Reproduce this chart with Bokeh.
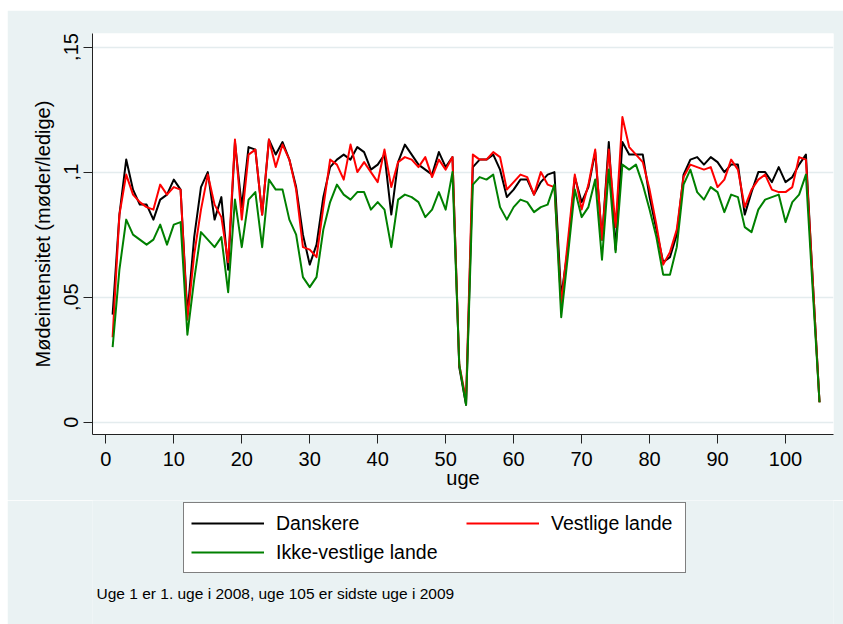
from bokeh.plotting import figure
from bokeh.layouts import column
from bokeh.models import Range1d, FixedTicker, Legend, LegendItem, Label
from bokeh.embed import file_html
from bokeh.resources import INLINE

weeks = list(range(1, 106))

danskere = [
    .043, .083, .105, .093, .087, .087, .081, .089, .091, .097,
    .093, .043, .074, .094, .100, .081, .090, .061, .112, .086,
    .110, .109, .083, .113, .107, .112, .105, .094, .075, .063,
    .071, .090, .102, .105, .107, .105, .110, .108, .101, .103,
    .107, .083, .104, .111, .107, .103, .101, .099, .108, .102,
    .106, .022, .007, .102, .105, .105, .107, .101, .090, .093,
    .097, .097, .091, .096, .099, .100, .050, .070, .098, .088,
    .094, .108, .073, .112, .069, .112, .107, .107, .107, .090,
    .077, .064, .066, .075, .099, .105, .106, .103, .106, .104,
    .100, .103, .103, .083, .092, .100, .100, .096, .102, .096,
    .098, .103, .107, .057, .008,
]

vestlige = [
    .034, .083, .099, .091, .088, .086, .085, .095, .091, .094,
    .093, .041, .067, .085, .099, .087, .082, .064, .113, .081,
    .107, .109, .083, .113, .102, .111, .105, .093, .070, .069,
    .066, .086, .105, .103, .097, .111, .100, .104, .100, .096,
    .109, .094, .104, .106, .105, .102, .106, .098, .105, .101,
    .106, .023, .009, .107, .105, .105, .108, .106, .093, .096,
    .099, .098, .091, .100, .095, .094, .047, .073, .099, .085,
    .095, .109, .073, .109, .078, .122, .110, .107, .104, .093,
    .079, .063, .068, .077, .098, .103, .102, .101, .102, .094,
    .097, .105, .101, .086, .093, .097, .099, .093, .092, .092,
    .094, .106, .105, .057, .008,
]

ikke_vestlige = [
    .030, .061, .081, .075, .073, .071, .073, .079, .071, .079,
    .080, .035, .057, .076, .073, .070, .074, .052, .089, .070,
    .089, .092, .070, .097, .093, .093, .081, .075, .058, .054,
    .058, .077, .088, .095, .091, .089, .092, .092, .085, .088,
    .085, .070, .089, .091, .090, .088, .082, .085, .092, .085,
    .100, .023, .007, .095, .098, .097, .099, .086, .081, .086,
    .089, .088, .084, .086, .087, .095, .042, .067, .093, .082,
    .086, .097, .065, .101, .068, .103, .101, .103, .095, .085,
    .074, .059, .059, .070, .095, .101, .092, .089, .094, .092,
    .084, .091, .090, .078, .076, .085, .089, .090, .091, .080,
    .088, .091, .099, .053, .008,
]

series_names = ["Danskere", "Vestlige lande", "Ikke-vestlige lande"]
series_colors = ["black", "#FF0000", "#008000"]
x_ticks = [0, 10, 20, 30, 40, 50, 60, 70, 80, 90, 100]
y_ticks = [0, 0.05, 0.1, 0.15]
y_tick_labels = ["0", ",05", ",1", ",15"]
x_title = "uge"
y_title = "Mødeintensitet (møder/ledige)"
note = "Uge 1 er 1. uge i 2008, uge 105 er sidste uge i 2009"

FONT = "Liberation Sans"
BG = "#EAF2F3"

# ---------------- main plot ----------------
p = figure(width=836, height=490,
           x_range=Range1d(-1.96, 107.06), y_range=Range1d(-0.0049, 0.1554),
           output_backend="svg", toolbar_location=None,
           min_border_left=85, min_border_right=10, min_border_top=23, min_border_bottom=66,
           background_fill_color="white", border_fill_color=BG,
           outline_line_color=None)

p.xgrid.visible = False
p.ygrid.grid_line_color = "#E4ECEE"
p.ygrid.grid_line_width = 1.3

for ax in (p.xaxis[0], p.yaxis[0]):
    ax.axis_line_color = "#222222"
    ax.axis_line_width = 1
    ax.major_tick_line_color = "#222222"
    ax.major_tick_line_width = 1
    ax.major_tick_out = 9
    ax.major_tick_in = 0
    ax.minor_tick_line_color = None
    ax.major_label_text_font = FONT
    ax.major_label_text_font_size = "20px"
    ax.major_label_text_color = "black"
    ax.axis_label_text_font = FONT
    ax.axis_label_text_font_size = "20px"
    ax.axis_label_text_font_style = "normal"
    ax.axis_label_text_color = "black"

p.xaxis.ticker = FixedTicker(ticks=x_ticks)
p.xaxis.axis_label = x_title
p.xaxis.major_label_standoff = 8
p.xaxis.axis_label_standoff = -2

p.yaxis.ticker = FixedTicker(ticks=y_ticks)
p.yaxis.major_label_overrides = {t: s for t, s in zip(y_ticks, y_tick_labels)}
p.yaxis.major_label_orientation = "vertical"
p.yaxis.axis_label = y_title
p.yaxis.major_label_standoff = 5
p.yaxis.axis_label_standoff = 8

for ys, col in zip([danskere, vestlige, ikke_vestlige], series_colors):
    p.line(weeks, ys, line_color=col, line_width=2, line_join="round")

# ---------------- legend + note strip ----------------
# frame of this strip is aligned with the main frame (left edge 85 px in)
p2 = figure(width=836, height=124, x_range=Range1d(500, 501), y_range=Range1d(0, 1),
            output_backend="svg", toolbar_location=None,
            x_axis_type=None, y_axis_type=None,
            min_border_left=85, min_border_right=10, min_border_top=0, min_border_bottom=0,
            background_fill_color=BG, border_fill_color=BG, outline_line_color=None)
p2.xgrid.visible = False
p2.ygrid.visible = False

# legend key renderers (their data lies outside this strip's range, only the keys show)
keys = [p2.line(weeks, ys, line_color=c, line_width=2)
        for ys, c in zip([danskere, vestlige, ikke_vestlige], series_colors)]

common = dict(padding=7, spacing=3, margin=0, glyph_width=73, glyph_height=26,
              label_height=26, label_standoff=12,
              label_text_font=FONT, label_text_font_size="19.5px",
              label_text_color="black")

leg1 = Legend(items=[LegendItem(label=series_names[0], renderers=[keys[0]]),
                     LegendItem(label=series_names[2], renderers=[keys[2]])],
              location=(91, 51), label_width=402,
              border_line_color="black", border_line_width=1,
              background_fill_color="white", background_fill_alpha=1.0, **common)
leg2 = Legend(items=[LegendItem(label=series_names[1], renderers=[keys[1]])],
              location=(374, 88), label_width=10,
              border_line_color=None, background_fill_alpha=0.0, **common)
p2.add_layout(leg1)
p2.add_layout(leg2)

p2.add_layout(Label(x=4, y=31, x_units="screen", y_units="screen", text=note,
                    text_font=FONT, text_font_size="15.5px", text_color="black",
                    text_baseline="alphabetic"))

layout = column(p, p2, spacing=0, margin=(10, 0, 0, 7))

open("out.html", "w").write(file_html(layout, INLINE))
